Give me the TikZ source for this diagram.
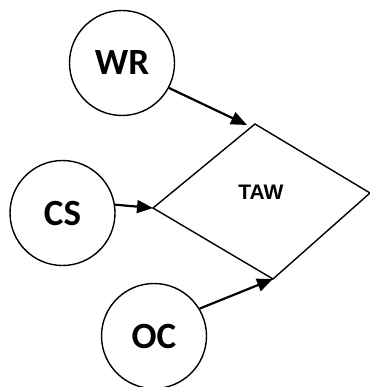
\documentclass[tikz,border=0pt]{standalone}
\usepackage{fontspec}
\setmainfont{Carlito}
\newfontfamily\arialfont{Liberation Sans}
\usetikzlibrary{arrows.meta}
\begin{document}
\begin{tikzpicture}[x=1pt,y=-1pt,
  circ/.style={draw,circle,line width=1.4pt,minimum size=105pt,inner sep=0pt,font=\fontsize{37}{40}\selectfont\bfseries},
  arr/.style={line width=2.2pt,-{Triangle[length=16pt,width=13pt]}},
  dia/.style={line width=1.4pt,line join=miter}]
\useasboundingbox (0,0) rectangle (369,387);
\node[circ] (WR) at (122,63) {WR};
\node[circ] (CS) at (62.5,213) {CS};
\node[circ] (OC) at (154,336) {OC};
\coordinate (dt) at (255,124);
\coordinate (dr) at (370,193);
\coordinate (db) at (273,279);
\coordinate (dl) at (153,208);
\draw[dia] (dt) -- (dr) -- (db) -- (dl) -- cycle;
\node[font=\arialfont\bfseries\fontsize{21}{23}\selectfont] (TAW) at (261,192) {TAW};
\coordinate (t1) at (247,125);
\coordinate (t2) at (153,208);
\coordinate (t3) at (273,279);
\draw[arr] (WR.-28) -- (t1);
\draw[arr] (CS.9) -- (t2);
\draw[arr] (OC.31) -- (t3);
\end{tikzpicture}
\end{document}
